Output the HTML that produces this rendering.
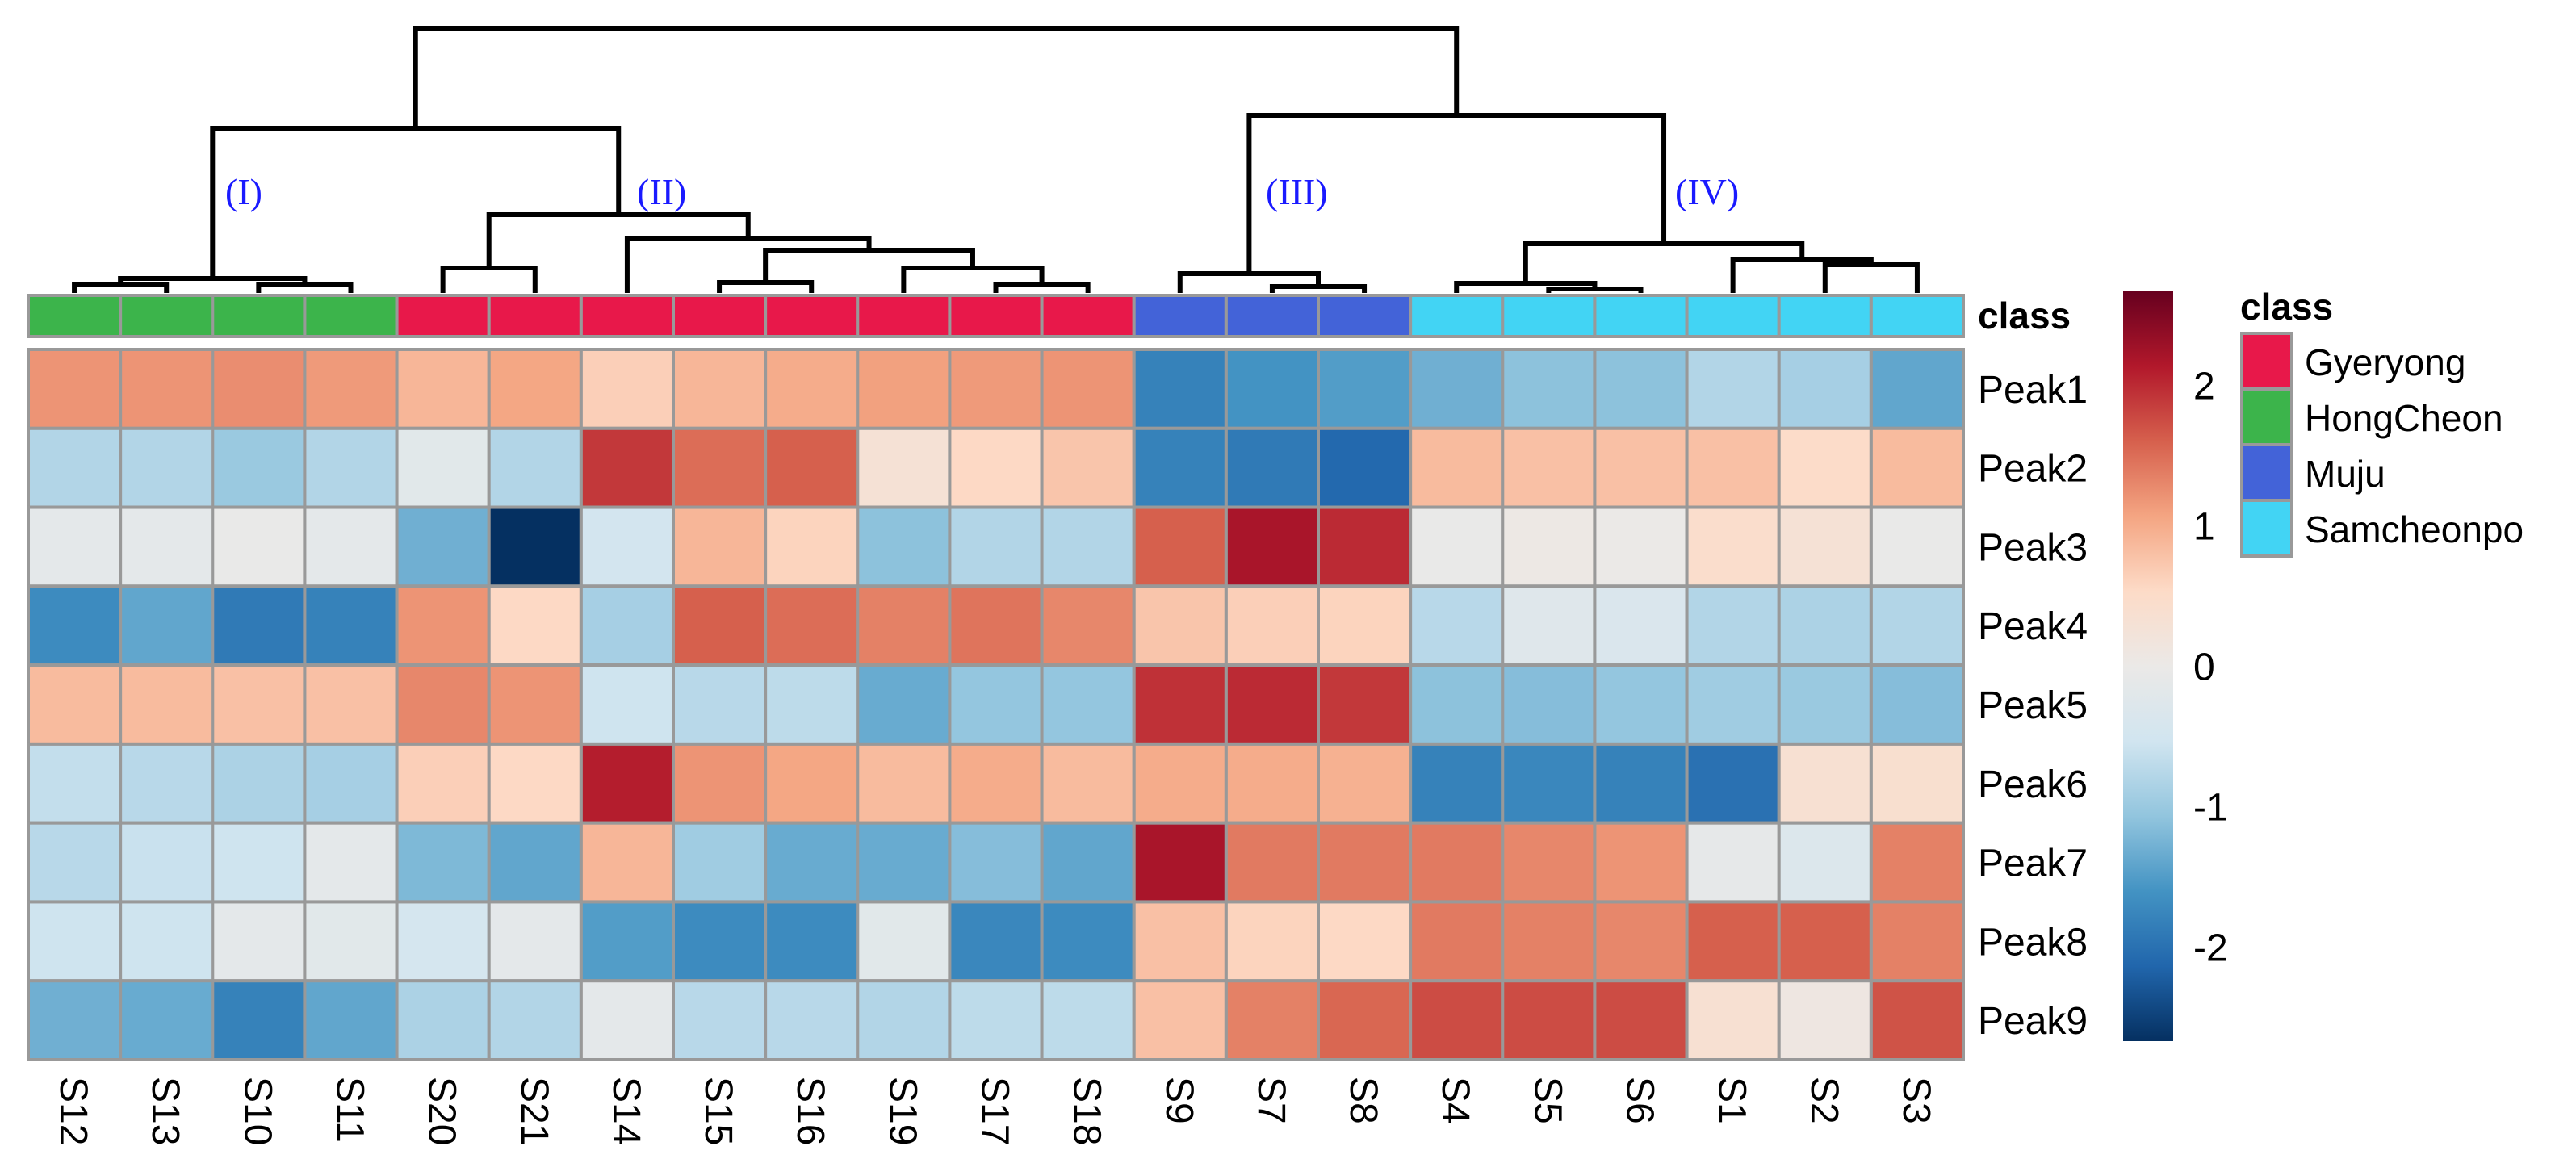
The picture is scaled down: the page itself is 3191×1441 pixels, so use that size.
<!DOCTYPE html>
<html><head><meta charset="utf-8"><style>
html,body{margin:0;padding:0;background:#fff;}
svg{display:block;}
text{font-family:"Liberation Sans",sans-serif;}
</style></head><body>
<svg id="chart" width="3191" height="1441" viewBox="0 0 3191 1441" xmlns="http://www.w3.org/2000/svg">
<g id="dendro" stroke="#000" stroke-width="6" fill="none"></g>
<g id="clusterLabels"></g>
<g id="classbar"></g>
<g id="cells"></g>
<g id="rowlabels"></g>
<g id="collabels"></g>
<g id="colorbar"></g>
<g id="legend"></g>
</svg>
<script>
const columns = ["S12","S13","S10","S11","S20","S21","S14","S15","S16","S19","S17","S18","S9","S7","S8","S4","S5","S6","S1","S2","S3"];
const columnClass = ["HongCheon","HongCheon","HongCheon","HongCheon","Gyeryong","Gyeryong","Gyeryong","Gyeryong","Gyeryong","Gyeryong","Gyeryong","Gyeryong","Muju","Muju","Muju","Samcheonpo","Samcheonpo","Samcheonpo","Samcheonpo","Samcheonpo","Samcheonpo"];
const rows = ["Peak1","Peak2","Peak3","Peak4","Peak5","Peak6","Peak7","Peak8","Peak9"];
const peak1 = [1.2,1.2,1.25,1.15,0.9,1.05,0.65,0.9,1.0,1.1,1.15,1.2,-1.8,-1.6,-1.5,-1.3,-1.1,-1.1,-0.8,-0.9,-1.4];
const peak2 = [-0.8,-0.8,-1.0,-0.8,-0.2,-0.8,1.9,1.5,1.6,0.3,0.55,0.75,-1.8,-1.9,-2.1,0.85,0.8,0.8,0.8,0.5,0.85];
const peak3 = [-0.15,-0.15,-0.05,-0.15,-1.3,-2.7,-0.5,0.9,0.6,-1.1,-0.8,-0.8,1.6,2.2,2.0,-0.05,0.05,0.0,0.45,0.3,-0.05];
const peak4 = [-1.7,-1.4,-1.9,-1.8,1.2,0.55,-0.9,1.6,1.5,1.35,1.45,1.3,0.75,0.65,0.6,-0.75,-0.25,-0.35,-0.8,-0.85,-0.8];
const peak5 = [0.85,0.85,0.8,0.8,1.3,1.2,-0.55,-0.75,-0.7,-1.35,-1.05,-1.05,1.95,2.0,1.9,-1.1,-1.15,-1.05,-0.95,-1.0,-1.15];
const peak6 = [-0.65,-0.75,-0.85,-0.9,0.65,0.55,2.1,1.2,1.05,0.85,1.0,0.85,1.0,1.0,0.95,-1.8,-1.75,-1.8,-2.0,0.35,0.4];
const peak7 = [-0.75,-0.6,-0.55,-0.15,-1.2,-1.4,0.9,-0.95,-1.35,-1.35,-1.15,-1.4,2.2,1.4,1.4,1.4,1.3,1.2,-0.1,-0.3,1.35];
const peak8 = [-0.55,-0.55,-0.15,-0.2,-0.45,-0.15,-1.5,-1.7,-1.7,-0.2,-1.75,-1.7,0.8,0.6,0.55,1.4,1.35,1.3,1.6,1.6,1.35];
const peak9 = [-1.3,-1.35,-1.8,-1.4,-0.85,-0.8,-0.15,-0.75,-0.75,-0.8,-0.7,-0.7,0.8,1.35,1.55,1.75,1.75,1.75,0.35,0.1,1.7];
const colorTicks = [2,1,0,-1,-2];
const classNames = ["Gyeryong","HongCheon","Muju","Samcheonpo"];
const classColors = ["#e8184a","#3cb44b","#4363d8","#42d4f4"];
// dendrogram merges: [leftNodeIdx, rightNodeIdx, height]; leaves are 0..20, merges create new ids 21+
const merges = [
 [0,1,353],[2,3,353],[21,22,345],
 [4,5,332],[7,8,350],[10,11,353],[9,26,332],[25,27,310],[6,28,295],[24,29,266],[23,30,159],
 [13,14,355],[12,32,339],[16,17,358],[15,34,351],[19,20,328],[18,36,322],[35,37,302],[33,38,143],
 [31,39,35]
];
const clusterNames = ["(I)","(II)","(III)","(IV)"];
const clusterX = [279,789,1568,2075];

const NS="http://www.w3.org/2000/svg";
function mk(tag,attrs,parent){const e=document.createElementNS(NS,tag);for(const k in attrs)e.setAttribute(k,attrs[k]);parent.appendChild(e);return e;}
const X0=35, X1=2432, Y0=433, Y1=1313, CB0=366, CB1=417;
const cw=(X1-X0)/columns.length, rh=(Y1-Y0)/rows.length;
const xScale=i=>X0+cw*i;
const yScale=j=>Y0+rh*j;
const stops=["#053061","#2166ac","#4393c3","#92c5de","#d1e5f0","#ebe9e7","#fddbc7","#f4a582","#d6604d","#b2182b","#67001f"];
const VMIN=-2.67, VMAX=2.67;
function hex(c){return [1,3,5].map(i=>parseInt(c.substr(i,2),16));}
function color(v){let t=(v-VMIN)/(VMAX-VMIN);t=Math.max(0,Math.min(1,t))*(stops.length-1);const i=Math.min(Math.floor(t),stops.length-2),f=t-i;const a=hex(stops[i]),b=hex(stops[i+1]);return "rgb("+a.map((x,k)=>Math.round(x+(b[k]-x)*f)).join(",")+")";}

const data=[peak1,peak2,peak3,peak4,peak5,peak6,peak7,peak8,peak9];
const cells=document.getElementById('cells');
data.forEach((row,j)=>row.forEach((v,i)=>{
 const r=mk('rect',{x:xScale(i),y:yScale(j),width:cw,height:rh,fill:color(v),stroke:'#999',"stroke-width":4},cells);
 
 
}));
const cb=document.getElementById('classbar');
columnClass.forEach((c,i)=>{
 const r=mk('rect',{x:xScale(i),y:CB0,width:cw,height:CB1-CB0,fill:classColors[classNames.indexOf(c)],stroke:'#999',"stroke-width":4},cb);
 
 
});
const ct=mk('text',{x:2450,y:407,"font-size":46,"font-weight":"bold",fill:"#000"},cb);ct.textContent="class";


const rl=document.getElementById('rowlabels');
rows.forEach((n,j)=>{const t=mk('text',{x:2450,y:yScale(j)+rh/2+17,"font-size":48,fill:"#000"},rl);t.textContent=n;
 
 });
const cl=document.getElementById('collabels');
columns.forEach((n,i)=>{const cx=xScale(i)+cw/2;const t=mk('text',{x:cx,y:1334,"font-size":48,fill:"#000",transform:`rotate(90 ${cx} 1334)`,dy:"17"},cl);t.textContent=n;
 
 });
const dg=document.getElementById('dendro');
const nodeX=columns.map((_,i)=>xScale(i)+cw/2), nodeY=columns.map(()=>363);
merges.forEach(([a,b,h])=>{
 const p=mk('path',{d:`M${nodeX[a]},${nodeY[a]}V${h}H${nodeX[b]}V${nodeY[b]}`},dg);
 
 
 nodeX.push((nodeX[a]+nodeX[b])/2);nodeY.push(h);
});
const clg=document.getElementById('clusterLabels');
clusterNames.forEach((n,i)=>{const t=mk('text',{x:clusterX[i],y:253,"font-size":46,fill:"#1a1aff"},clg);t.textContent=n;t.style.fontFamily='"Liberation Serif",serif';
 
 });
const cbar=document.getElementById('colorbar');
const defs=mk('defs',{},cbar);const g=mk('linearGradient',{id:'grad',x1:0,y1:1,x2:0,y2:0},defs);
stops.forEach((s,i)=>mk('stop',{offset:(i/(stops.length-1)),"stop-color":s},g));
const CBT=361,CBB=1290;
const cbr=mk('rect',{x:2630,y:CBT,width:62,height:CBB-CBT,fill:'url(#grad)'},cbar);


const vy=v=>CBT+(VMAX-v)/(VMAX-VMIN)*(CBB-CBT);
colorTicks.forEach(v=>{const t=mk('text',{x:2717,y:vy(v)+17,"font-size":48,fill:"#000"},cbar);t.textContent=String(v);
 
 });
const lg=document.getElementById('legend');
const lt=mk('text',{x:2775,y:396,"font-size":46,"font-weight":"bold",fill:"#000"},lg);lt.textContent="class";


classNames.forEach((n,i)=>{
 const y=413+69*i;
 const r=mk('rect',{x:2777,y:y,width:62,height:69,fill:classColors[i],stroke:'#999',"stroke-width":4},lg);
 
 
 const t=mk('text',{x:2855,y:y+52,"font-size":46,fill:"#000"},lg);t.textContent=n;
 
 
});
</script>
</body></html>
